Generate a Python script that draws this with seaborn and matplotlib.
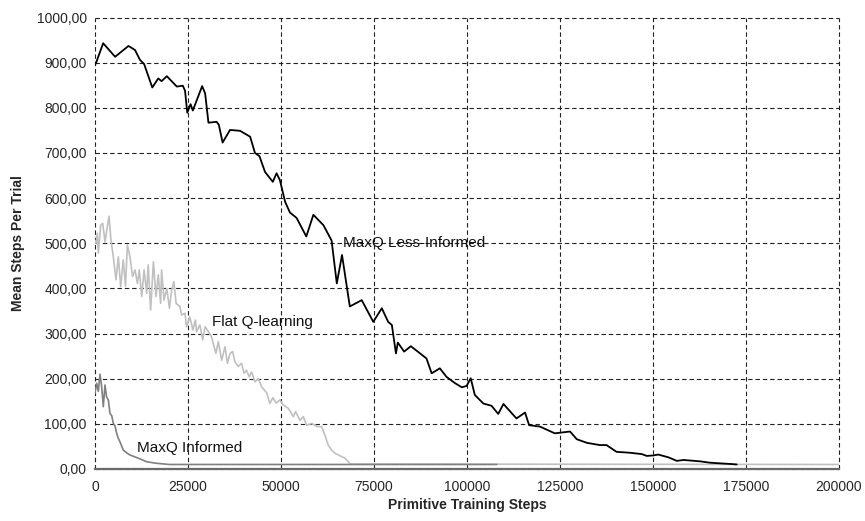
import matplotlib
matplotlib.use("Agg")
import matplotlib.pyplot as plt
import seaborn as sns
import pandas as pd

# ---------------- data ----------------
less_x = [0, 300, 2200, 5400, 9000, 10750, 12100, 13200, 15400, 17000, 17900, 19300,
          22000, 23600, 24200, 24800, 25700, 26300, 28800, 29600, 30500, 32700, 33300,
          34300, 36300, 39000, 41700, 43000, 44200, 45700, 47800, 48800, 49700, 51100,
          52400, 54200, 56800, 58700, 61400, 63600, 65000, 66400, 68500, 71700, 74800,
          77100, 78800, 79800, 80900, 81400, 83100, 84900, 89100, 90500, 92700, 94500,
          96800, 98600, 99900, 101000, 102100, 104400, 106600, 108400, 109800, 113300,
          115600, 116700, 119600, 123600, 127700, 129500, 132200, 135700, 137500, 140200,
          143800, 147000, 148300, 150100, 151400, 154100, 156400, 158200, 162600, 165300,
          168000, 171100, 172500]
less_y = [895, 900, 943, 913, 937, 928, 906, 897, 845, 865, 859, 870,
          847, 849, 838, 789, 808, 794, 848, 832, 767, 769, 762,
          723, 751, 749, 736, 700, 693, 658, 636, 655, 640, 592,
          568, 556, 515, 563, 540, 506, 411, 474, 360, 374, 326,
          356, 326, 319, 256, 280, 260, 272, 245, 212, 223, 204,
          190, 181, 184, 201, 164, 145, 140, 122, 144, 112,
          125, 97, 94, 79, 83, 66, 58, 53, 53, 38,
          36, 33, 29, 30, 32, 26, 18, 20, 17, 14,
          12.5, 11, 10]

flat_x = [0, 270, 620, 900, 1530, 2070, 2690, 3760, 4300, 4920, 5640, 6270, 6900, 7600,
          8200, 8700, 9400, 10100, 10750, 11400, 11900, 12550, 13200, 13900, 14300, 14950,
          15700, 16400, 17000, 17650, 17900, 18550, 19300, 20000, 20600, 21200, 21800,
          22800, 23300, 24200, 24600, 25500, 26300, 27000, 27300, 28200, 28950, 29600,
          30500, 31300, 32500, 33150, 34050, 34950, 35600, 36300, 37000, 37600, 38500,
          39400, 40050, 40700, 41500, 42100, 43000, 43900, 44800, 46200, 47000, 47800,
          48700, 49700, 50600, 52000, 53300, 53900, 55100, 56000, 56900, 58300, 59600,
          60900, 61800, 62700, 63600, 64500, 65900, 67200, 68100, 68600, 200000]
flat_y = [505, 500, 522, 478, 540, 544, 503, 560, 507, 470, 419, 470, 404, 463,
          405, 496, 470, 426, 441, 411, 441, 382, 441, 389, 452, 352,
          459, 382, 430, 367, 441, 374, 400, 356, 396, 415, 367,
          360, 341, 345, 315, 337, 308, 330, 304, 319, 286, 315,
          304, 293, 256, 282, 241, 271, 234, 256, 260, 238, 227,
          234, 212, 219, 204, 215, 193, 200, 182, 168, 145, 158,
          146, 153, 142, 134, 116, 127, 108, 116, 97, 101, 94,
          94, 75, 53, 42, 35, 29, 24, 16, 11, 10]

inf_x = [0, 450, 900, 1340, 1800, 2230, 2690, 3100, 3580, 4030, 4500, 4920, 5400, 5830,
         6260, 6720, 7600, 8500, 9400, 11640, 13900, 16580, 20000, 108000]
inf_y = [168, 190, 172, 210, 182, 138, 186, 160, 153, 123, 118, 101, 95, 79,
         68, 60, 42, 36, 31, 24, 16, 12.6, 10, 10]

series_names = ["MaxQ Less-Informed", "Flat Q-learning", "MaxQ Informed"]
series_colors = ["#000000", "#c0c0c0", "#808080"]

x_ticks = [0, 25000, 50000, 75000, 100000, 125000, 150000, 175000, 200000]
y_ticks = [0, 100, 200, 300, 400, 500, 600, 700, 800, 900, 1000]

label_pos = {"MaxQ Less-Informed": (66700, 500),
             "Flat Q-learning": (31400, 326),
             "MaxQ Informed": (11200, 47)}

# ---------------- plot ----------------
sns.set_style("white")
plt.rcParams["font.family"] = ["Liberation Sans", "DejaVu Sans"]

fig = plt.figure(figsize=(8.65, 5.21), dpi=100)
ax = fig.add_axes([95 / 865, 52 / 521, 744 / 865, 451.5 / 521])

df = pd.concat([
    pd.DataFrame({"x": flat_x, "y": flat_y, "s": series_names[1]}),
    pd.DataFrame({"x": inf_x, "y": inf_y, "s": series_names[2]}),
    pd.DataFrame({"x": less_x, "y": less_y, "s": series_names[0]}),
])
order = [series_names[1], series_names[2], series_names[0]]
pal = dict(zip(series_names, series_colors))
for name in order:
    sub = df[df["s"] == name]
    sns.lineplot(data=sub, x="x", y="y", color=pal[name], estimator=None,
                 sort=False, lw=1.3 if name == series_names[0] else 1.2,
                 ax=ax, legend=False)

ax.set_xlim(0, 200000)
ax.set_ylim(0, 1000)
ax.set_xticks(x_ticks)
ax.set_xticklabels([str(t) for t in x_ticks], fontsize=10)
ax.set_yticks(y_ticks)
ax.set_yticklabels([f"{t:.2f}".replace(".", ",") for t in y_ticks], fontsize=10)

ax.grid(True, color="#222222", linestyle=(0, (4, 2.6)), linewidth=0.8)
for s in ["top", "right", "left"]:
    ax.spines[s].set_visible(False)
ax.spines["bottom"].set_color("#6a6a6a")
ax.spines["bottom"].set_linewidth(1.6)
ax.tick_params(axis="x", direction="out", length=4, width=0.8, color="#333333", pad=4)
ax.tick_params(axis="y", direction="out", length=3, width=0.8, color="#333333", pad=3)
for gl in ax.get_xgridlines() + ax.get_ygridlines():
    gl.set_clip_on(False)

ax.set_xlabel("Primitive Training Steps", fontsize=10, fontweight="bold", labelpad=3)
ax.set_ylabel("Mean Steps Per Trial", fontsize=10, fontweight="bold", labelpad=8)

for name, (tx, ty) in label_pos.items():
    ax.text(tx, ty, name, fontsize=11, ha="left", va="center", color="#111111")

fig.savefig("out.png", dpi=100, facecolor="white")
